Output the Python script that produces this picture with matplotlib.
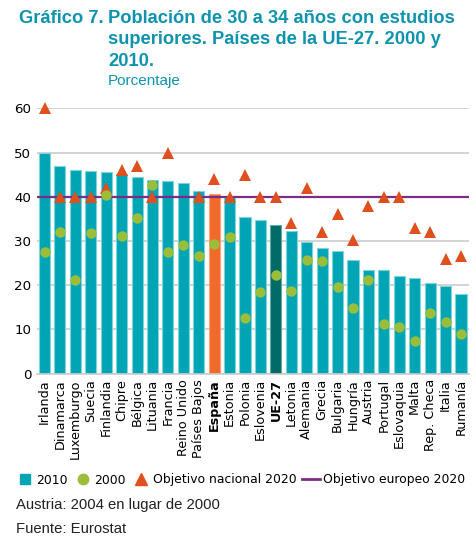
import numpy as np
import matplotlib
matplotlib.use("Agg")
from matplotlib import pyplot as plt
from matplotlib.lines import Line2D

# data
paises = ["Irlanda", "Dinamarca", "Luxemburgo", "Suecia", "Finlandia", "Chipre",
          "Bélgica", "Lituania", "Francia", "Reino Unido", "Países Bajos", "España",
          "Estonia", "Polonia", "Eslovenia", "UE-27", "Letonia", "Alemania", "Grecia",
          "Bulgaria", "Hungría", "Austria", "Portugal", "Eslovaquia", "Malta",
          "Rep. Checa", "Italia", "Rumanía"]
v2010 = [49.9, 47.0, 46.1, 45.8, 45.7, 45.1, 44.4, 43.8, 43.5, 43.0, 41.4, 40.6,
         40.0, 35.3, 34.8, 33.6, 32.3, 29.8, 28.4, 27.7, 25.7, 23.5, 23.5, 22.1,
         21.5, 20.4, 19.8, 18.1]
v2000 = [27.5, 32.1, 21.2, 31.8, 40.3, 31.1, 35.2, 42.6, 27.4, 29.0, 26.5, 29.2,
         30.8, 12.5, 18.5, 22.4, 18.6, 25.7, 25.4, 19.5, 14.8, 21.1, 11.3, 10.6,
         7.4, 13.7, 11.6, 8.9]
objetivo = [60, 40, 40, 40, 42, 46, 47, 40, 50, np.nan, 40, 44,
            40, 45, 40, 40, 34, 42, 32, 36, 30.3, 38, 40, 40,
            33, 32, 26, 26.7]
objetivo_ue = 40

teal = "#00A5B5"
naranja = "#F26A2B"
oscuro = "#006B67"
verde = "#9BBE3A"
rojo = "#E0501E"
morado = "#7B2D85"
azul_titulo = "#0E93AE"

fig = plt.figure(figsize=(4.76, 5.4), dpi=100)
ax = fig.add_axes([0.0773, 0.3083, 0.9074, 0.4911])

x = np.arange(len(paises))
colores = [naranja if p == "España" else oscuro if p == "UE-27" else teal for p in paises]
bordes = ["#F7A27A" if p == "España" else "#5FA9A5" if p == "UE-27" else "#7FD4DC" for p in paises]
ax.bar(x, v2010, width=0.72, color=colores, edgecolor=bordes, linewidth=0.8, zorder=2)
ax.axhline(objetivo_ue, color=morado, linewidth=1.6, zorder=3)
ax.plot(x, objetivo, linestyle="none", marker="^", markersize=8.5, color=rojo,
        markeredgewidth=0, zorder=4, clip_on=False)
ax.plot(x, v2000, linestyle="none", marker="o", markersize=7.5, color=verde,
        markeredgewidth=0, zorder=5)

ax.set_xlim(-0.5, len(paises) - 0.5)
ax.set_ylim(0, 60)
ax.set_yticks(range(0, 61, 10))
ax.yaxis.grid(True, color="#CCCCCC", linewidth=1.2, zorder=0)
ax.set_axisbelow(True)
for s in ["top", "right", "left"]:
    ax.spines[s].set_visible(False)
ax.spines["bottom"].set_color("#CCCCCC")
ax.spines["bottom"].set_linewidth(1.2)
ax.tick_params(length=0, labelsize=9.6, pad=4)
ax.set_xticks(x)
ax.set_xticklabels(paises, rotation=90, fontsize=9.2)
for lab in ax.get_xticklabels():
    if lab.get_text() in ("España", "UE-27"):
        lab.set_fontweight("bold")

# title block
fig.text(19 / 476, 1 - 10 / 540, "Gráfico 7.", family="Liberation Sans", weight="bold",
         fontsize=13.2, color=azul_titulo, va="top")
fig.text(108 / 476, 1 - 10 / 540, "Población de 30 a 34 años con estudios\nsuperiores. Países de la UE-27. 2000 y\n2010.",
         family="Liberation Sans", weight="bold", fontsize=13.2, color=azul_titulo,
         va="top", linespacing=1.33)
fig.text(108 / 476, 1 - 85 / 540, "Porcentaje", family="Liberation Sans",
         fontsize=11, color=azul_titulo)

handles = [
    Line2D([], [], linestyle="none", marker="s", markersize=6.5, color=teal),
    Line2D([], [], linestyle="none", marker="o", markersize=7.5, color=verde),
    Line2D([], [], linestyle="none", marker="^", markersize=8, color=rojo),
    Line2D([], [], color=morado, linewidth=2),
]
fig.legend(handles, ["2010", "2000", "Objetivo nacional 2020", "Objetivo europeo 2020"],
           loc="center left", bbox_to_anchor=(16 / 476, 1 - 480 / 540), ncol=4,
           frameon=False, fontsize=8.9, handlelength=1.4, handletextpad=0.25,
           columnspacing=0.5, borderaxespad=0, borderpad=0)

fig.text(16 / 476, 1 - 509 / 540, "Austria: 2004 en lugar de 2000",
         family="Liberation Sans", fontsize=10.7, color="#222222")
fig.text(16 / 476, 1 - 533 / 540, "Fuente: Eurostat",
         family="Liberation Sans", fontsize=10.7, color="#222222")

fig.savefig("out.png", dpi=100)
